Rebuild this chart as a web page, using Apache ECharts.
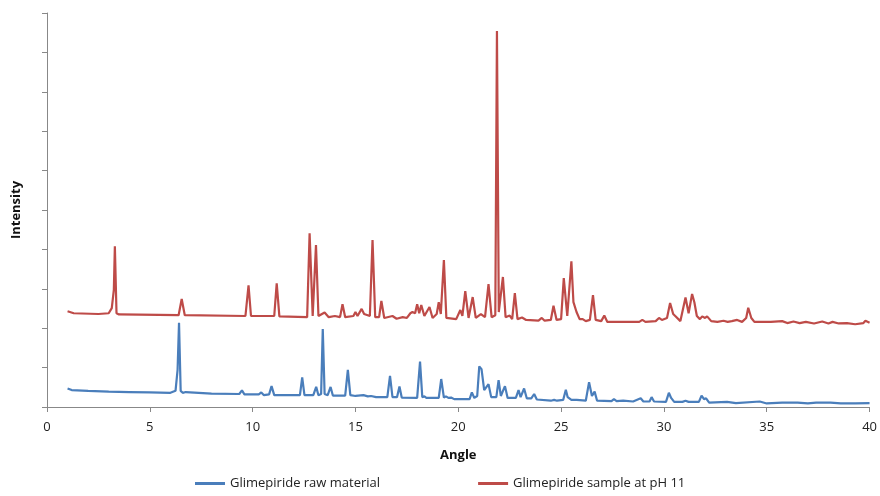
<!DOCTYPE html>
<html>
<head>
<meta charset="utf-8">
<script src="https://cdn.jsdelivr.net/npm/echarts@6/dist/echarts.min.js"></script>
<style>
    html, body { margin: 0; padding: 0; background: #fff; }
    #chart { width: 880px; height: 496px; }
</style>
</head>
<body>
<div id="chart"></div>
<script>
// values (arbitrary intensity units, 0-1000)
const rawAngle = [
    1.0, 1.2, 2.0, 3.0, 4.0, 5.0, 6.0, 6.25, 6.35, 6.42, 6.5, 6.6, 6.75, 8.0,
    9.35, 9.48, 9.6, 10.3, 10.42, 10.55, 10.8, 10.92, 11.05, 12.3, 12.41, 12.52,
    12.95, 13.09, 13.2, 13.33, 13.41, 13.5, 13.65, 13.79, 13.9, 14.5, 14.63, 14.75,
    15.0, 15.39, 15.6, 15.76, 16.0, 16.55, 16.68, 16.8, 17.02, 17.14, 17.25, 18.0,
    18.14, 18.25, 18.35, 18.45, 19.05, 19.17, 19.3, 19.4, 19.52, 19.65, 19.8, 20.55,
    20.66, 20.78, 20.92, 21.02, 21.13, 21.26, 21.47, 21.6, 21.85, 21.96, 22.07, 22.27,
    22.4, 22.8, 22.93, 23.03, 23.2, 23.33, 23.55, 23.69, 23.82, 24.5, 24.66, 24.8,
    25.1, 25.23, 25.32, 25.39, 25.5, 25.76, 26.2, 26.36, 26.5, 26.63, 26.75, 27.45,
    27.57, 27.7, 28.02, 28.5, 28.87, 29.0, 29.3, 29.4, 29.52, 30.1, 30.24, 30.35,
    30.5, 30.9, 31.05, 31.2, 31.7, 31.83, 31.95, 32.05, 32.2, 33.07, 33.5, 34.66,
    35.0, 35.75, 36.5, 37.0, 37.4, 38.1, 38.6, 39.3, 40.0
];
const rawIntensity = [
    47, 43, 41, 39, 38, 37, 36, 41, 94, 214, 41, 36, 38, 34,
    33, 42, 32, 32, 37, 30, 32, 53, 30, 30, 75, 30,
    30, 51, 30, 33, 198, 33, 30, 51, 29, 29, 94, 30,
    28, 30, 27, 28, 25, 25, 79, 25, 25, 52, 24, 23,
    115, 25, 27, 23, 23, 71, 24, 27, 23, 24, 20, 20,
    37, 23, 28, 103, 96, 43, 58, 25, 25, 68, 28, 53,
    23, 23, 43, 25, 47, 22, 22, 33, 19, 16, 18, 16,
    18, 44, 25, 30, 18, 18, 16, 63, 28, 39, 16, 15,
    20, 15, 16, 14, 22, 14, 14, 25, 14, 13, 36, 23,
    13, 13, 16, 13, 13, 29, 20, 22, 11, 13, 10, 14,
    9, 11, 11, 9, 11, 11, 9, 9, 10
];

const phAngle = [
    1.0, 1.3, 2.5, 3.0, 3.15, 3.25, 3.3, 3.38, 3.5, 6.4, 6.55, 6.7,
    9.65, 9.8, 9.92, 11.05, 11.17, 11.3, 12.65, 12.77, 12.92, 13.08, 13.2, 13.5,
    13.7, 14.0, 14.25, 14.37, 14.5, 14.9, 15.0, 15.1, 15.3, 15.42, 15.5, 15.7,
    15.83, 15.96, 16.15, 16.26, 16.4, 16.8, 17.0, 17.3, 17.5, 17.67, 17.72, 17.77,
    17.9, 18.0, 18.1, 18.2, 18.35, 18.6, 18.75, 18.95, 19.05, 19.15, 19.3, 19.42,
    19.9, 20.1, 20.2, 20.34, 20.5, 20.7, 20.85, 21.1, 21.3, 21.47, 21.62, 21.8,
    21.88, 21.97, 22.05, 22.17, 22.3, 22.5, 22.62, 22.75, 22.88, 23.1, 23.3, 23.9,
    24.06, 24.2, 24.5, 24.63, 24.78, 25.0, 25.13, 25.3, 25.5, 25.6, 25.75, 25.9,
    26.05, 26.2, 26.4, 26.55, 26.68, 26.95, 27.1, 27.25, 28.8, 28.95, 29.1, 29.6,
    29.76, 29.9, 30.15, 30.3, 30.45, 30.55, 30.8, 31.05, 31.2, 31.37, 31.48, 31.6,
    31.75, 31.86, 32.0, 32.1, 32.3, 32.6, 32.9, 33.1, 33.3, 33.56, 33.8, 34.0,
    34.1, 34.25, 34.4, 35.2, 35.75, 36.0, 36.3, 36.6, 36.9, 37.3, 37.7, 38.0,
    38.2, 38.5, 38.9, 39.3, 39.7, 39.8, 40.0
];
const phIntensity = [
    243, 238, 236, 238, 251, 297, 408, 238, 235, 233, 274, 233,
    231, 309, 231, 231, 314, 230, 228, 441, 231, 411, 231, 240,
    228, 231, 228, 261, 228, 231, 241, 231, 249, 236, 241, 231,
    424, 228, 228, 269, 226, 231, 224, 228, 226, 238, 233, 241,
    238, 261, 238, 259, 231, 254, 226, 236, 266, 236, 373, 226,
    223, 246, 231, 294, 226, 279, 226, 236, 228, 312, 228, 233,
    954, 241, 246, 330, 228, 232, 223, 289, 223, 227, 221, 219,
    226, 219, 221, 257, 221, 223, 327, 231, 370, 266, 241, 223,
    223, 218, 221, 284, 221, 218, 232, 216, 216, 221, 216, 218,
    226, 221, 226, 264, 236, 231, 218, 278, 238, 287, 266, 231,
    223, 230, 226, 230, 218, 216, 219, 216, 218, 221, 216, 226,
    252, 226, 216, 216, 218, 213, 217, 213, 216, 212, 217, 212,
    216, 212, 213, 210, 213, 219, 214
];

const seriesNames = ["Glimepiride raw material", "Glimepiride sample at pH 11"];
const xTicks = { min: 0, max: 40, interval: 5 };
const yTicks = { min: 0, max: 1000, interval: 100 };

function pairs(xs, ys) {
    return xs.map((x, i) => [x, ys[i]]);
}

let myChart = echarts.init(document.getElementById("chart"));
let font = "'Open Sans', 'Liberation Sans', sans-serif";
myChart.setOption({
    animation: false,
    textStyle: { fontFamily: font },
    grid: { left: 47, right: 9, top: 13, bottom: 89 },
    legend: {
        data: seriesNames,
        bottom: 1,
        left: 190,
        itemGap: 98,
        itemWidth: 30,
        itemHeight: 3,
        icon: "rect",
        textStyle: { color: "#222", fontSize: 13, fontFamily: font },
    },
    xAxis: {
        type: "value",
        min: xTicks.min,
        max: xTicks.max,
        interval: xTicks.interval,
        name: "Angle",
        nameLocation: "middle",
        nameGap: 42,
        nameTextStyle: { color: "#111", fontSize: 13, fontWeight: "bold", fontFamily: font },
        axisLine: { lineStyle: { color: "#888", width: 1 } },
        axisTick: { show: true, length: 5, lineStyle: { color: "#888" } },
        axisLabel: { color: "#222", fontSize: 13, margin: 14 },
        splitLine: { show: false },
    },
    yAxis: {
        type: "value",
        min: yTicks.min,
        max: yTicks.max,
        interval: yTicks.interval,
        name: "Intensity",
        nameLocation: "middle",
        nameGap: 24,
        nameRotate: 90,
        nameTextStyle: { color: "#111", fontSize: 13, fontWeight: "bold", fontFamily: font },
        axisLine: { show: true, lineStyle: { color: "#888", width: 1 } },
        axisTick: { show: true, length: 5, lineStyle: { color: "#888" } },
        axisLabel: { show: false },
        splitLine: { show: false },
    },
    series: [
        {
            name: seriesNames[0],
            type: "line",
            data: pairs(rawAngle, rawIntensity),
            showSymbol: false,
            color: "#4a7ebb",
            lineStyle: { width: 2.2, color: "#4a7ebb" },
        },
        {
            name: seriesNames[1],
            type: "line",
            data: pairs(phAngle, phIntensity),
            showSymbol: false,
            color: "#be4b48",
            lineStyle: { width: 2.2, color: "#be4b48" },
        },
    ],
});
</script>
</body>
</html>
